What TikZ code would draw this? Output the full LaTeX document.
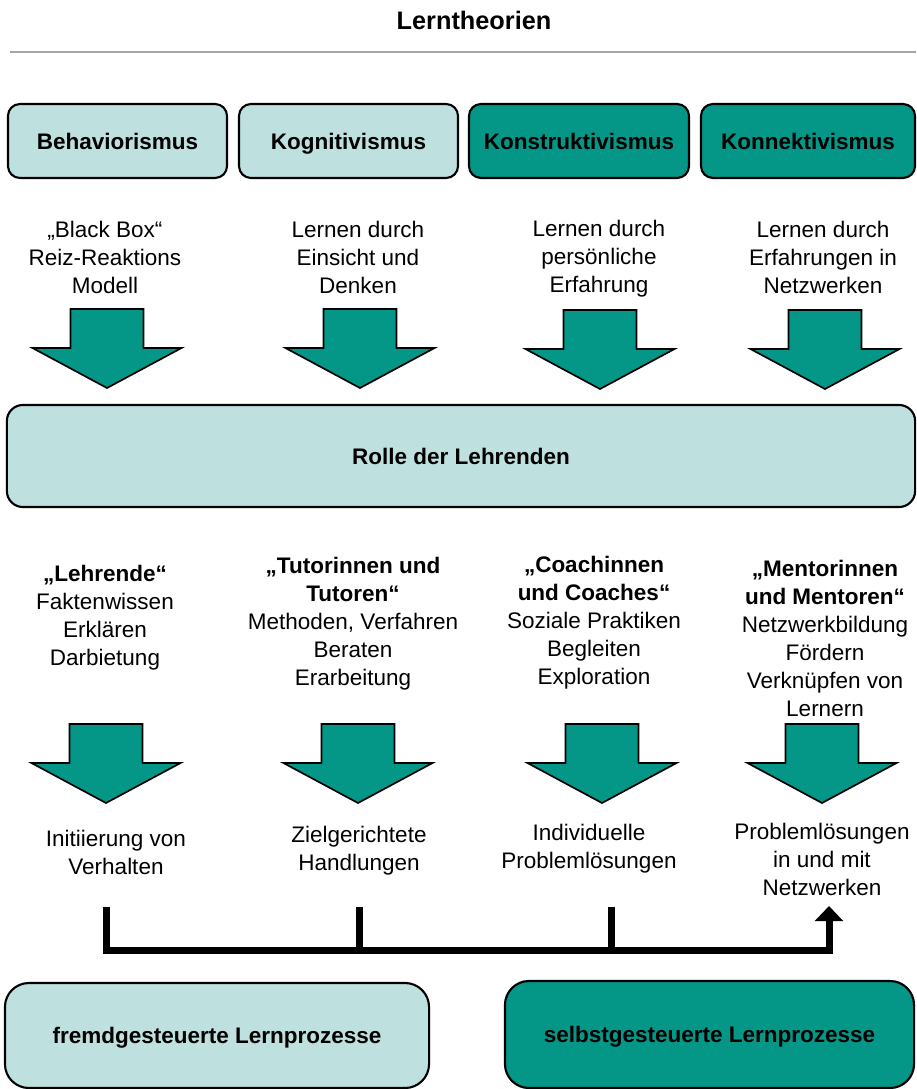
\documentclass[tikz,border=0pt]{standalone}
\usepackage{fontspec}
\setmainfont{Liberation Sans}
\usetikzlibrary{arrows.meta,calc,positioning}
\definecolor{lightteal}{RGB}{190,224,223}
\definecolor{darkteal}{RGB}{4,150,135}

\begin{document}
\begin{tikzpicture}[x=0.025cm,y=-0.025cm,every node/.style={outer sep=0pt},
		font=\fontsize{16}{19.9}\selectfont,
		theory/.style={draw,line width=1.5pt,rounded corners=0.3cm,font=\fontsize{16}{19.9}\selectfont\bfseries,minimum height=1.85cm,text height=14pt,text depth=2.6pt},
		lightfill/.style={fill=lightteal},
		darkfill/.style={fill=darkteal},
		info/.style={align=center,inner sep=0pt},
		blockarrow/.style={draw,fill=darkteal,line width=1.2pt},
		bar/.style={line width=0.175cm},
		]
		\useasboundingbox (0,0) rectangle (916,1089);

		\path (474,20) node[font=\fontsize{18}{22}\selectfont\bfseries] (title) {Lerntheorien};
		\draw[gray!70,line width=1pt] (10,52) -- (916,52);

		% theories
		\node[theory,lightfill,minimum width=5.475cm] (beh) at (117.5,141) {Behaviorismus};
		\node[theory,lightfill,minimum width=5.475cm] (kog) at (348.5,141) {Kognitivismus};
		\node[theory,darkfill,minimum width=5.5cm] (kon) at (579,141) {Konstruktivismus};
		\node[theory,darkfill,minimum width=5.35cm] (kop) at (808,141) {Konnektivismus};

		\node[info] (tbeh) at (105,257) {„Black Box“\\Reiz-Reaktions\\Modell};
		\node[info] (tkog) at (358,257) {Lernen durch\\Einsicht und\\Denken};
		\node[info] (tkon) at (599,259) {Lernen durch\\persönliche\\Erfahrung};
		\node[info] (tkop) at (823,257) {Lernen durch\\Erfahrungen in\\Netzwerken};

		% block arrows
		\foreach \x/\y in {107/309,360/309,600/310,825/310,106/724,358/724,602/724,822/724}
			\draw[blockarrow] (\x-36.5,\y) -- (\x+36.5,\y) -- (\x+36.5,\y+39) -- (\x+74.5,\y+39) -- (\x,\y+79) -- (\x-74.5,\y+39) -- (\x-36.5,\y+39) -- cycle;

		\node[theory,lightfill,rounded corners=0.4cm,minimum width=22.7cm,minimum height=2.55cm] (rolle) at (461,456) {Rolle der Lehrenden};

		% roles
		\node[info] (rleh) at (105,618) {\textbf{„Lehrende“}\\Faktenwissen\\Erklären\\Darbietung};
		\node[info] (rtut) at (353,624) {\textbf{„Tutorinnen und}\\\textbf{Tutoren“}\\Methoden, Verfahren\\Beraten\\Erarbeitung};
		\node[info] (rcoa) at (594,623) {\textbf{„Coachinnen}\\\textbf{und Coaches“}\\Soziale Praktiken\\Begleiten\\Exploration};
		\node[info] (rmen) at (825,638) {\textbf{„Mentorinnen}\\\textbf{und Mentoren“}\\Netzwerkbildung\\Fördern\\Verknüpfen von\\Lernern};

		% results
		\node[info] (eleh) at (116,852) {Initiierung von\\Verhalten};
		\node[info] (etut) at (359,851) {Zielgerichtete\\Handlungen};
		\node[info] (ecoa) at (589,849) {Individuelle\\Problemlösungen};
		\node[info] (emen) at (822,859) {Problemlösungen\\in und mit\\Netzwerken};

		% bracket
		\coordinate (s1) at (106,907);
		\coordinate (s2) at (359,907);
		\coordinate (s3) at (611,907);
		\coordinate (s4) at (829,906);
		\coordinate (j) at (829,950);
		\draw[bar,-{Triangle[length=0.38cm,width=0.7cm]}] (s1) |- (j) -- (s4);
		\draw[bar] (s2) -- (s2 |- j);
		\draw[bar] (s3) -- (s3 |- j);

		\node[theory,lightfill,rounded corners=0.6cm,minimum width=10.6cm,minimum height=2.625cm] (fremd) at (217,1035.5) {fremdgesteuerte Lernprozesse};
		\node[theory,darkfill,rounded corners=0.6cm,minimum width=10.225cm,minimum height=2.675cm] (selbst) at (709.5,1034.5) {selbstgesteuerte Lernprozesse};
	\end{tikzpicture}
\end{document}
